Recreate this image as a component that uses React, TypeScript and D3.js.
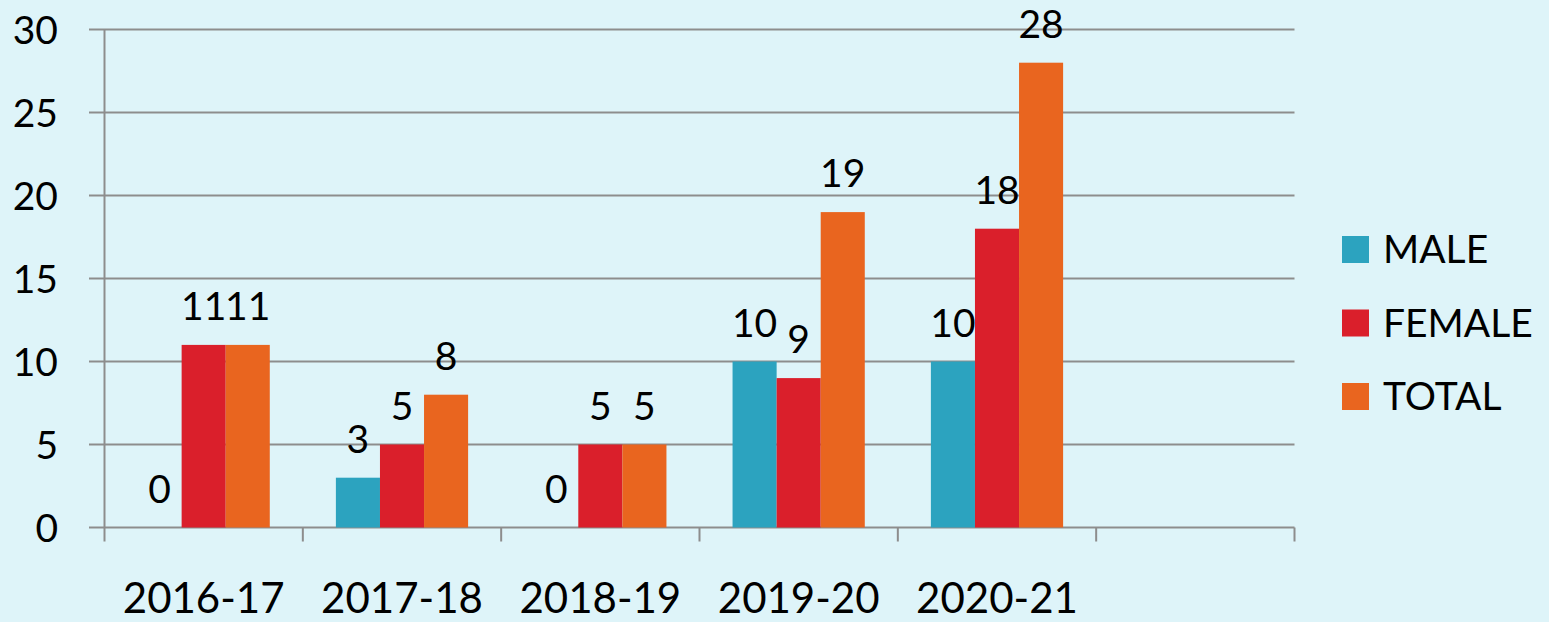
import React from "react";
import * as d3 from "d3";

const categories = ["2016-17", "2017-18", "2018-19", "2019-20", "2020-21", ""];
const seriesNames = ["MALE", "FEMALE", "TOTAL"];
const maleValues = [0, 3, 0, 10, 10];
const femaleValues = [11, 5, 5, 9, 18];
const totalValues = [11, 8, 5, 19, 28];
const yTicks = [0, 5, 10, 15, 20, 25, 30];
const colors = ["#2ca3bf", "#da1f2b", "#e9651f"];

const W = 1549;
const H = 622;
const left = 104.5;
const right = 1294.5;
const top = 29.5;
const bottom = 527.5;
const FONT = "Lato, 'Open Sans', sans-serif";

export default function App() {
  const x0 = d3.scaleBand<string>().domain(categories.map((c, i) => String(i))).range([left, right]).paddingInner(0).paddingOuter(0);
  const x1 = d3.scaleBand<string>().domain(seriesNames).range([0, x0.bandwidth()]).paddingInner(0).paddingOuter(0.75);
  const y = d3.scaleLinear().domain([0, 30]).range([bottom, top]);
  const series = [maleValues, femaleValues, totalValues];

  return (
    <svg width={W} height={H} style={{ position: "absolute", left: 0, top: 0 }} fontFamily={FONT}>
      <rect x={0} y={0} width={W} height={H} fill="#def4f9" />
      {yTicks.map((t) => (
        <g key={t}>
          <line x1={89} x2={right} y1={y(t)} y2={y(t)} stroke="#8d8d8d" strokeWidth={2} />
          <text x={58} y={y(t) + 14} textAnchor="end" fontSize={39} fill="#000">{t}</text>
        </g>
      ))}
      <line x1={left} x2={left} y1={top} y2={bottom + 14} stroke="#8d8d8d" strokeWidth={2} />
      {categories.map((c, i) => (
        <line key={"t" + i} x1={x0(String(i))! + x0.bandwidth()} x2={x0(String(i))! + x0.bandwidth()} y1={bottom} y2={bottom + 14} stroke="#8d8d8d" strokeWidth={2} />
      ))}
      {categories.map((c, i) => (
        <text key={"c" + i} x={x0(String(i))! + x0.bandwidth() / 2} y={613} textAnchor="middle" fontSize={42} fill="#000">{c}</text>
      ))}
      {series.map((vals, si) =>
        vals.map((v, i) => {
          const bx = x0(String(i))! + x1(seriesNames[si])!;
          const bw = x1.bandwidth();
          return (
            <g key={si + "-" + i}>
              <rect x={bx} y={y(v)} width={bw} height={bottom - y(v)} fill={colors[si]} />
              <text x={bx + bw / 2} y={y(v) - 25} textAnchor="middle" fontSize={39} fill="#000">{v}</text>
            </g>
          );
        })
      )}
      {seriesNames.map((n, i) => (
        <g key={n}>
          <rect x={1342} y={236 + i * 73.5} width={27} height={27} fill={colors[i]} />
          <text x={1383} y={263 + i * 73.5} fontSize={39} fill="#000">{n}</text>
        </g>
      ))}
    </svg>
  );
}
